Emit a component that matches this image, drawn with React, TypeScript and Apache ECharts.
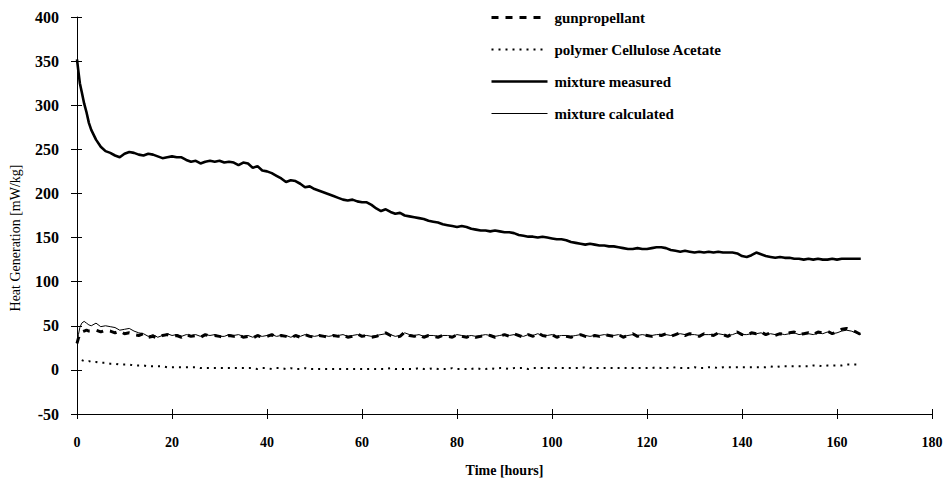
import React, { useEffect, useRef } from "react";
import * as echarts from "echarts";

const hours = [
  0, 0.3, 0.6, 1, 1.5, 2, 2.5,
  3, 4, 5, 6, 7, 8, 9, 10, 11, 12,
  13, 14, 15, 16, 17, 18, 19, 20, 21, 22,
  23, 24, 25, 26, 27, 28, 29, 30, 31, 32,
  33, 34, 35, 36, 37, 38, 39, 40, 41, 42,
  43, 44, 45, 46, 47, 48, 49, 50, 51, 52,
  53, 54, 55, 56, 57, 58, 59, 60, 61, 62,
  63, 64, 65, 66, 67, 68, 69, 70, 71, 72,
  73, 74, 75, 76, 77, 78, 79, 80, 81, 82,
  83, 84, 85, 86, 87, 88, 89, 90, 91, 92,
  93, 94, 95, 96, 97, 98, 99, 100, 101, 102,
  103, 104, 105, 106, 107, 108, 109, 110, 111, 112,
  113, 114, 115, 116, 117, 118, 119, 120, 121, 122,
  123, 124, 125, 126, 127, 128, 129, 130, 131, 132,
  133, 134, 135, 136, 137, 138, 139, 140, 141, 142,
  143, 144, 145, 146, 147, 148, 149, 150, 151, 152,
  153, 154, 155, 156, 157, 158, 159, 160, 161, 162,
  163, 164, 165,
];

const gunpropellant = [
  30, 36, 40, 43, 44, 45, 44,
  44, 45, 43, 45, 44, 42, 44, 41, 42, 40,
  39, 41, 37, 38, 36, 39, 40, 38, 39, 37,
  40, 38, 39, 37, 40, 38, 39, 38, 37, 39,
  38, 40, 37, 38, 36, 39, 37, 38, 40, 37,
  39, 38, 36, 39, 37, 40, 38, 37, 39, 38,
  37, 39, 38, 40, 37, 38, 41, 38, 39, 37,
  38, 40, 42, 39, 37, 38, 43, 39, 38, 40,
  37, 39, 38, 37, 39, 38, 37, 40, 38, 37,
  39, 37, 38, 40, 39, 37, 38, 40, 38, 41,
  39, 37, 40, 38, 42, 39, 38, 40, 37, 39,
  38, 37, 39, 40, 38, 37, 39, 38, 40, 39,
  38, 40, 37, 39, 41, 38, 40, 39, 38, 40,
  39, 41, 38, 40, 42, 39, 41, 40, 38, 41,
  40, 39, 42, 40, 38, 41, 43, 40, 39, 42,
  41, 43, 40, 42, 39, 41, 40, 42, 43, 40,
  41, 42, 40, 43, 42, 44, 41, 43, 46, 47,
  45, 43, 40,
];

const polymerCelluloseAcetate = [
  null, null, null, 11, 10, 10, 10,
  9, 9, 8, 8, 7, 7, 6, 6, 6, 5,
  5, 5, 4, 4, 4, 4, 3, 3, 3, 3,
  3, 3, 3, 2, 2, 2, 2, 2, 2, 2,
  2, 2, 2, 2, 2, 1, 2, 2, 1, 2,
  2, 1, 2, 1, 1, 2, 1, 1, 1, 1,
  1, 1, 1, 1, 1, 1, 1, 1, 1, 1,
  1, 1, 1, 2, 1, 1, 1, 1, 1, 2,
  1, 1, 2, 1, 1, 1, 2, 1, 1, 1,
  1, 2, 1, 1, 2, 1, 2, 2, 1, 2,
  2, 2, 1, 2, 2, 2, 2, 2, 2, 2,
  2, 2, 2, 2, 3, 2, 2, 2, 2, 2,
  2, 2, 2, 2, 2, 2, 2, 2, 2, 3,
  2, 2, 2, 3, 2, 2, 2, 3, 2, 2,
  3, 3, 2, 3, 3, 3, 3, 3, 3, 3,
  3, 3, 3, 4, 3, 4, 4, 4, 4, 4,
  4, 4, 5, 5, 4, 5, 5, 5, 5, 6,
  6, 6, 6,
];

const mixtureMeasured = [
  352, 338, 325, 315, 302, 292, 280,
  272, 261, 253, 248, 246, 243, 241, 245, 247, 246,
  244, 243, 245, 244, 242, 240, 241, 242, 241, 241,
  238, 236, 237, 234, 236, 237, 236, 237, 235, 236,
  235, 232, 235, 234, 229, 231, 226, 225, 223, 220,
  217, 213, 215, 214, 211, 207, 208, 205, 203, 201,
  199, 197, 195, 193, 192, 193, 191, 190, 190, 187,
  183, 180, 182, 179, 177, 178, 175, 174, 173, 172,
  171, 169, 168, 167, 165, 164, 163, 162, 163, 162,
  160, 159, 158, 158, 157, 158, 157, 156, 156, 155,
  153, 152, 151, 151, 150, 151, 150, 149, 148, 148,
  147, 145, 144, 143, 142, 143, 142, 141, 141, 140,
  140, 139, 138, 137, 137, 138, 137, 137, 138, 139,
  139, 138, 136, 135, 134, 135, 134, 133, 134, 133,
  134, 133, 134, 133, 133, 133, 132, 129, 128, 130,
  133, 131, 129, 128, 127, 128, 127, 127, 126, 126,
  125, 126, 125, 126, 125, 125, 126, 125, 126, 126,
  126, 126, 126,
];

const mixtureCalculated = [
  30, 40, 48, 53, 55, 53, 51,
  50, 53, 49, 50, 49, 48, 45, 46, 47, 44,
  42, 41, 38, 40, 37, 39, 41, 39, 40, 38,
  40, 39, 40, 38, 40, 39, 40, 38, 38, 40,
  39, 40, 38, 39, 37, 39, 38, 39, 40, 38,
  39, 39, 37, 39, 38, 40, 39, 38, 39, 39,
  38, 39, 39, 40, 38, 39, 40, 39, 39, 38,
  39, 40, 41, 40, 38, 39, 42, 40, 39, 40,
  38, 39, 39, 38, 39, 39, 38, 40, 39, 38,
  39, 38, 39, 40, 39, 38, 39, 40, 39, 40,
  39, 38, 40, 39, 41, 39, 39, 40, 38, 39,
  39, 38, 39, 40, 39, 38, 39, 39, 40, 39,
  39, 40, 38, 39, 40, 39, 40, 39, 39, 40,
  40, 40, 39, 40, 41, 40, 40, 40, 39, 40,
  40, 40, 41, 40, 39, 40, 42, 40, 40, 41,
  41, 42, 40, 41, 40, 41, 40, 41, 42, 40,
  41, 41, 40, 42, 41, 43, 41, 42, 44, 45,
  44, 42, 40,
];

const seriesNames = [
  "gunpropellant",
  "polymer Cellulose Acetate",
  "mixture measured",
  "mixture calculated",
];

const xTicks = { min: 0, max: 180, interval: 20 };
const yTicks = { min: -50, max: 400, interval: 50 };

const yTitle = "Heat Generation [mW/kg]";
const xTitle = "Time [hours]";

const FONT = "'Liberation Serif', 'Times New Roman', serif";

const lineStyles = [
  { color: "#000", width: 3, type: [7, 7] },
  { color: "#000", width: 2, type: [2, 5] },
  { color: "#000", width: 2.6, type: "solid" },
  { color: "#000", width: 1, type: "solid" },
];

function pairs(values: (number | null)[]) {
  return hours.map((h, i) => [h, values[i]]);
}

export default function App() {
  const ref = useRef<HTMLDivElement>(null);
  useEffect(() => {
    if (!ref.current) return;
    const chart = echarts.init(ref.current, undefined, { renderer: "svg" });
    const axisLine = { show: true, onZero: false, lineStyle: { color: "#000", width: 1 } };
    const seriesData = [gunpropellant, polymerCelluloseAcetate, mixtureMeasured, mixtureCalculated];
    const zs = [3, 2, 4, 1];
    chart.setOption({
      animation: false,
      backgroundColor: "#fff",
      grid: { left: 77, right: 16, top: 17, bottom: 64 },
      legend: {
        orient: "vertical",
        left: 485,
        top: 5,
        itemWidth: 56,
        itemHeight: 14,
        itemGap: 17,
        data: seriesNames.map((name, i) => ({ name, lineStyle: { ...lineStyles[i] } })),
        itemStyle: { opacity: 0 },
        textStyle: {
          fontFamily: FONT,
          fontWeight: "bold",
          fontSize: 15,
          color: "#000",
          padding: [0, 0, 0, 2],
        },
      },
      xAxis: [
        {
          type: "value",
          ...xTicks,
          position: "bottom",
          name: xTitle,
          nameLocation: "middle",
          nameGap: 49,
          nameTextStyle: { fontFamily: FONT, fontSize: 14, fontWeight: "bold", color: "#000" },
          axisLine,
          axisTick: { show: true, length: 5, lineStyle: { color: "#000" } },
          axisLabel: { margin: 21, fontFamily: FONT, fontSize: 14, fontWeight: "bold", color: "#000" },
          splitLine: { show: false },
        },
        {
          type: "value",
          ...xTicks,
          position: "bottom",
          axisLine: { show: false, onZero: false },
          axisTick: { show: true, inside: true, length: 5, lineStyle: { color: "#000" } },
          axisLabel: { show: false },
          splitLine: { show: false },
        },
      ],
      yAxis: [
        {
          type: "value",
          ...yTicks,
          position: "left",
          axisLine,
          axisTick: { show: true, length: 6, lineStyle: { color: "#000" } },
          axisLabel: { margin: 18, fontFamily: FONT, fontSize: 16, fontWeight: "bold", color: "#000" },
          splitLine: { show: false },
        },
        {
          type: "value",
          ...yTicks,
          position: "left",
          axisLine: { show: false, onZero: false },
          axisTick: { show: true, inside: true, length: 5, lineStyle: { color: "#000" } },
          axisLabel: { show: false },
          splitLine: { show: false },
        },
      ],
      graphic: [
        {
          type: "text",
          x: 15,
          y: 238,
          rotation: Math.PI / 2,
          style: {
            text: yTitle,
            fontFamily: FONT,
            fontSize: 14,
            fill: "#000",
            align: "center",
            verticalAlign: "middle",
          },
        },
      ],
      series: seriesNames.map((name, i) => ({
        name,
        type: "line",
        data: pairs(seriesData[i]),
        symbol: "none",
        connectNulls: false,
        z: zs[i],
        lineStyle: { ...lineStyles[i] },
        itemStyle: { color: "#000" },
      })),
    });
    return () => chart.dispose();
  }, []);
  return (
    <div
      ref={ref}
      style={{ position: "absolute", left: 0, top: 0, width: 948, height: 482 }}
    />
  );
}
